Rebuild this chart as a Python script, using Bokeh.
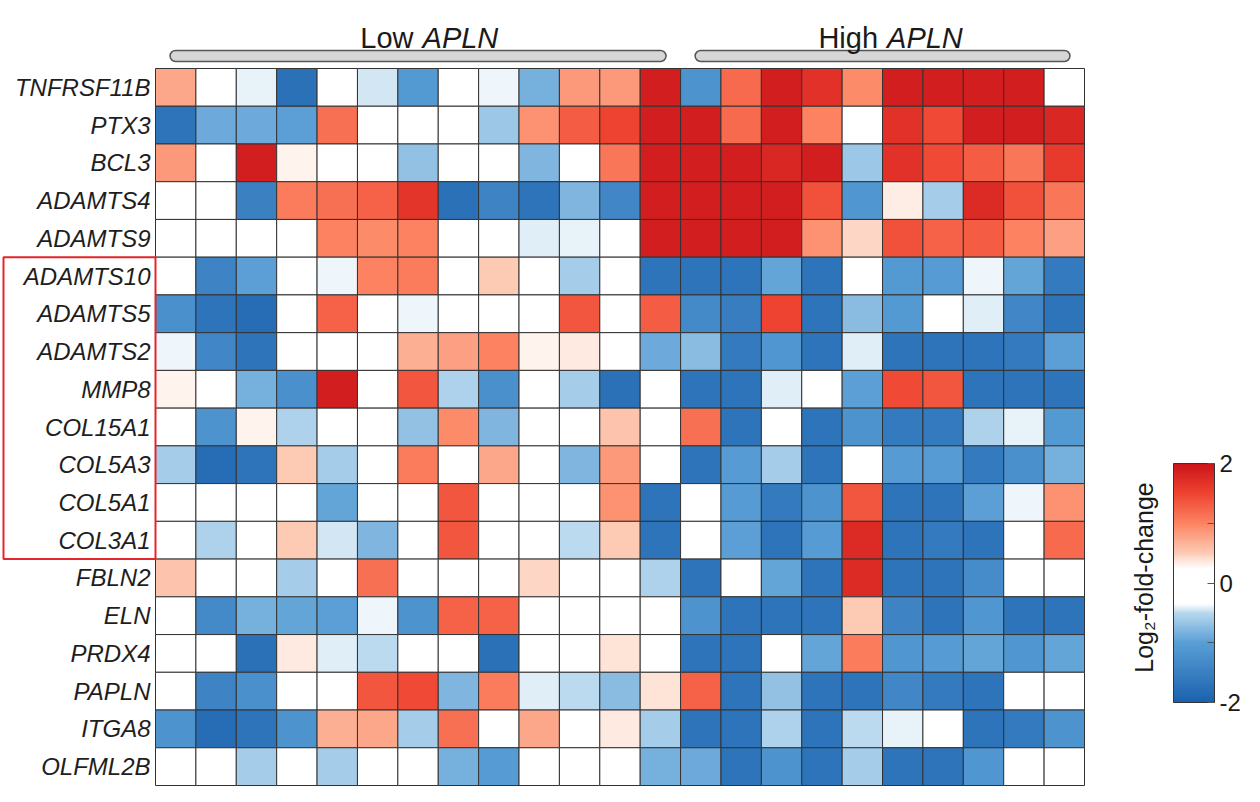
import numpy as np
from bokeh.plotting import figure
from bokeh.models import (ColumnDataSource, LinearColorMapper, ColorBar, FixedTicker, Range1d)
from bokeh.core.properties import value
from bokeh.embed import file_html
from bokeh.resources import INLINE

# ---------------- data ----------------
genes = ["TNFRSF11B", "PTX3", "BCL3", "ADAMTS4", "ADAMTS9", "ADAMTS10", "ADAMTS5",
         "ADAMTS2", "MMP8", "COL15A1", "COL5A3", "COL5A1", "COL3A1", "FBLN2", "ELN",
         "PRDX4", "PAPLN", "ITGA8", "OLFML2B"]
highlighted = ["ADAMTS10", "ADAMTS5", "ADAMTS2", "MMP8", "COL15A1", "COL5A3", "COL5A1", "COL3A1"]
group_names = ["Low", "High"]
group_sizes = [13, 10]
group_gene = "APLN"
cbar_ticks = [-2, 0, 2]
cbar_minor = [-1, 1]

TNFRSF11B = [0.75, 0, -0.4, -1.75, 0, -0.45, -1.1, 0, -0.38, -0.85, 0.85, 0.85, 1.9, -1.2, 1.2, 1.9, 1.7, 0.95, 1.9, 1.9, 1.9, 1.9, 0]
PTX3 = [-1.7, -0.9, -0.9, -1.0, 1.15, 0, 0, 0, -0.65, 0.9, 1.3, 1.5, 1.9, 1.9, 1.2, 1.9, 1.0, 0, 1.7, 1.45, 1.9, 1.9, 1.8]
BCL3 = [0.85, 0, 1.9, 0.3, 0, 0, -0.7, 0, 0, -0.8, 0, 1.1, 1.9, 1.9, 1.9, 1.8, 1.9, -0.65, 1.7, 1.45, 1.3, 1.1, 1.6]
ADAMTS4 = [0, 0, -1.5, 1.05, 1.15, 1.25, 1.65, -1.75, -1.45, -1.7, -0.8, -1.4, 1.9, 1.9, 1.9, 1.9, 1.4, -1.15, 0.33, -0.6, 1.75, 1.4, 1.1]
ADAMTS9 = [0, 0, 0, 0, 1.0, 0.95, 1.0, 0, 0, -0.42, -0.4, 0, 1.9, 1.9, 1.9, 1.9, 0.9, 0.45, 1.4, 1.25, 1.3, 1.0, 0.8]
ADAMTS10 = [0, -1.45, -1.0, 0, -0.38, 1.0, 1.05, 0, 0.5, 0, -0.6, 0, -1.7, -1.7, -1.7, -0.95, -1.7, 0, -1.1, -1.05, -0.38, -0.95, -1.6]
ADAMTS5 = [-1.25, -1.7, -1.8, 0, 1.25, 0, -0.38, 0, 0, 0, 1.35, 0, 1.3, -1.35, -1.55, 1.5, -1.7, -0.75, -1.1, 0, -0.42, -1.4, -1.7]
ADAMTS2 = [-0.38, -1.4, -1.7, 0, 0, 0, 0.7, 0.8, 1.0, 0.3, 0.35, 0, -0.9, -0.75, -1.6, -1.15, -1.7, -0.42, -1.7, -1.7, -1.7, -1.6, -1.0]
MMP8 = [0.3, 0, -0.85, -1.25, 1.9, 0, 1.35, -0.55, -1.25, 0, -0.6, -1.75, 0, -1.7, -1.7, -0.42, 0, -1.0, 1.45, 1.35, -1.7, -1.7, -1.7]
COL15A1 = [0, -1.2, 0.3, -0.55, 0, 0, -0.7, 0.95, -0.8, 0, 0, 0.55, 0, 1.15, -1.7, 0, -1.7, -1.2, -1.6, -1.6, -0.55, -0.4, -1.1]
COL5A3 = [-0.6, -1.8, -1.7, 0.5, -0.6, 0, 1.05, 0, 0.75, 0, -0.8, 0.85, 0, -1.7, -1.05, -0.6, -1.7, 0, -1.05, -1.05, -1.6, -1.25, -0.85]
COL5A1 = [0, 0, 0, 0, -0.95, 0, 0, 1.35, 0, 0, 0, 0.9, -1.7, 0, -1.05, -1.6, -1.2, 1.35, -1.7, -1.7, -1.0, -0.38, 0.9]
COL3A1 = [0, -0.55, 0, 0.5, -0.45, -0.8, 0, 1.35, 0, 0, -0.5, 0.5, -1.7, 0, -1.0, -1.7, -1.05, 1.75, -1.7, -1.6, -1.7, 0, 1.2]
FBLN2 = [0.55, 0, 0, -0.6, 0, 1.15, 0, 0, 0, 0.45, 0, 0, -0.55, -1.7, 0, -0.95, -1.7, 1.75, -1.7, -1.7, -1.3, 0, 0]
ELN = [0, -1.35, -0.85, -0.95, -1.0, -0.38, -1.2, 1.25, 1.25, 0, 0, 0, 0, -1.2, -1.7, -1.7, -1.7, 0.5, -1.45, -1.7, -1.15, -1.7, -1.7]
PRDX4 = [0, 0, -1.75, 0.35, -0.42, -0.5, 0, 0, -1.75, 0, 0, 0.38, 0, -1.7, -1.7, 0, -0.95, 1.05, -1.15, -1.05, -0.95, -1.15, -0.95]
PAPLN = [0, -1.45, -1.25, 0, 0, 1.35, 1.45, -0.8, 1.05, -0.42, -0.5, -0.75, 0.38, 1.25, -1.7, -0.7, -1.7, -1.7, -1.4, -1.6, -1.7, 0, 0]
ITGA8 = [-1.2, -1.8, -1.7, -1.2, 0.7, 0.75, -0.6, 1.15, 0, 0.75, 0, 0.35, -0.6, -1.7, -1.7, -0.55, -1.7, -0.5, -0.4, 0, -1.7, -1.6, -1.2]
OLFML2B = [0, 0, -0.6, 0, -0.6, 0, 0, -0.85, -1.05, 0, 0, 0, -0.85, -0.9, -1.7, -1.2, -1.7, -0.6, -1.7, -1.7, -1.15, 0, 0]

rows = [TNFRSF11B, PTX3, BCL3, ADAMTS4, ADAMTS9, ADAMTS10, ADAMTS5, ADAMTS2, MMP8,
        COL15A1, COL5A3, COL5A1, COL3A1, FBLN2, ELN, PRDX4, PAPLN, ITGA8, OLFML2B]

# ---------------- colour map ----------------
anchors = [(-2.0, "#1b62ae"), (-1.0, "#5a9fd6"), (-0.5, "#b9d8ee"), (-0.35, "#ffffff"),
           (0.25, "#ffffff"), (0.5, "#fdcbb5"), (1.0, "#fc8462"), (1.5, "#ef4431"), (2.0, "#cc151b")]

def hex2rgb(h):
    return np.array([int(h[i:i + 2], 16) for i in (1, 3, 5)], dtype=float)

av = np.array([a[0] for a in anchors])
ac = np.array([hex2rgb(a[1]) for a in anchors])
grid = np.linspace(-2, 2, 256)
palette = []
for g in grid:
    rgb = [np.interp(g, av, ac[:, k]) for k in range(3)]
    palette.append("#%02x%02x%02x" % tuple(int(round(c)) for c in rgb))
mapper = LinearColorMapper(palette=palette, low=-2, high=2)

# ---------------- layout (pixels) ----------------
FIG_W, FIG_H = 1244, 786
HM_LEFT, HM_TOP = 155, 68
n_rows, n_cols = len(genes), sum(group_sizes)
CELL_W = (1084 - HM_LEFT) / n_cols
CELL_H = (FIG_H - 1 - HM_TOP) / n_rows

def px_x(px):
    return (px - HM_LEFT) / CELL_W

def px_y(py):
    return n_rows - (py - HM_TOP) / CELL_H

p = figure(width=FIG_W, height=FIG_H, output_backend="svg", toolbar_location=None,
           x_range=Range1d(px_x(0), px_x(FIG_W)), y_range=Range1d(px_y(FIG_H), px_y(0)),
           x_axis_location=None, y_axis_location=None, min_border=0,
           min_border_left=0, min_border_right=0, min_border_top=0, min_border_bottom=0)
p.outline_line_color = None
p.grid.visible = False
p.background_fill_color = "white"
p.border_fill_color = "white"

# ---------------- heatmap cells ----------------
xs, ys, vs = [], [], []
for r, row in enumerate(rows):
    for c, v in enumerate(row):
        xs.append(c + 0.5)
        ys.append(n_rows - r - 0.5)
        vs.append(v)
src = ColumnDataSource(dict(x=xs, y=ys, v=vs))
p.rect(x="x", y="y", width=1, height=1, source=src,
       fill_color={"field": "v", "transform": mapper}, line_color="#333333", line_width=1)

# ---------------- row labels ----------------
lab_src = ColumnDataSource(dict(x=[px_x(HM_LEFT - 5)] * n_rows,
                                y=[n_rows - i - 0.5 for i in range(n_rows)], t=genes))
p.text(x="x", y="y", text="t", source=lab_src, text_align="right", text_baseline="middle",
       text_font=value("Liberation Sans"), text_font_style="italic",
       text_font_size="24px", text_color="#1e1e1e")

# ---------------- red highlight box ----------------
hi_idx = [genes.index(g) for g in highlighted]
p.quad(left=[px_x(3)], right=[0], top=[n_rows - min(hi_idx)], bottom=[n_rows - max(hi_idx) - 1],
       fill_color=None, line_color="#e3262b", line_width=2)

# ---------------- group brackets & headings ----------------
starts = [sum(group_sizes[:i]) for i in range(len(group_sizes))]
ends = [s + n for s, n in zip(starts, group_sizes)]
inset = 0.36
p.quad(left=[s + inset for s in starts], right=[e - inset for e in ends],
       top=[px_y(50)] * len(starts), bottom=[px_y(61)] * len(starts),
       fill_color="#d6d6d6", line_color="#555555", line_width=1.5, border_radius=6)
centers = [(s + e) / 2 for s, e in zip(starts, ends)]
gap = 4.5 / CELL_W
p.text(x=[c - gap for c in centers], y=[px_y(37)] * len(centers), text=group_names,
       text_align="right", text_baseline="alphabetic", text_font=value("Liberation Sans"),
       text_font_size="29px", text_color="#1a1a1a")
p.text(x=[c + gap for c in centers], y=[px_y(37)] * len(centers), text=[group_gene] * len(centers),
       text_align="left", text_baseline="alphabetic", text_font=value("Liberation Sans"),
       text_font_style="italic", text_font_size="29px", text_color="#1a1a1a")

# ---------------- colour bar ----------------
cb = ColorBar(color_mapper=mapper, ticker=FixedTicker(ticks=cbar_ticks, minor_ticks=cbar_minor),
              width=41, height=239, padding=0, location=(1173, FIG_H - 702),
              bar_line_color="#333333", major_tick_line_color="#555555", major_tick_in=7,
              major_tick_out=0, minor_tick_line_color="#555555", minor_tick_in=7, minor_tick_out=0,
              label_standoff=5, major_label_text_font="Liberation Sans",
              major_label_overrides={-2: "-2", 0: "0", 2: "2"},
              major_label_text_font_size="24px", major_label_text_color="#1a1a1a",
              background_fill_alpha=0, border_line_color=None)
p.add_layout(cb, "center")

p.text(x=[px_x(1143)], y=[px_y(577)], text=["Log\u2082-fold-change"], angle=np.pi / 2,
       text_align="center", text_baseline="middle", text_font=value("Liberation Sans"),
       text_font_size="25px", text_color="#1a1a1a")

open("out.html", "w").write(file_html(p, INLINE))
